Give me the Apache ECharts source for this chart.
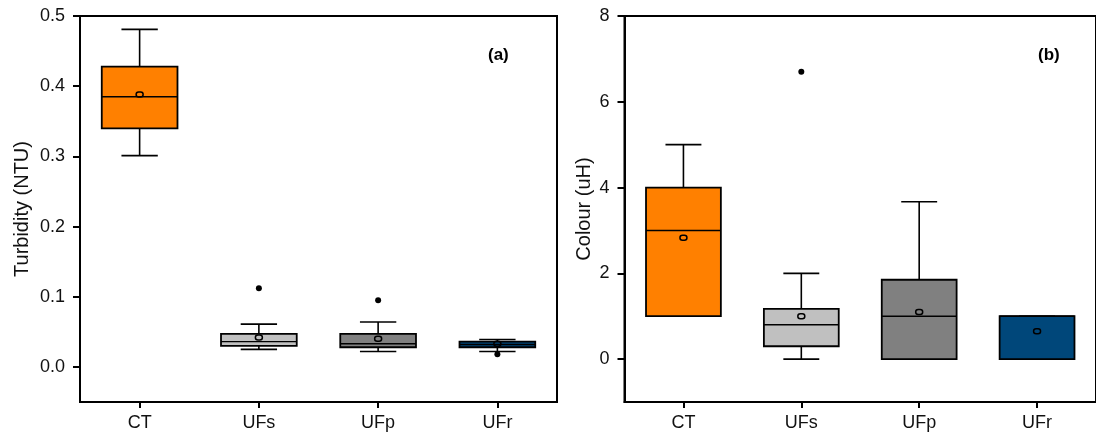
<!DOCTYPE html>
<html>
<head>
<meta charset="utf-8">
<script src="https://cdn.jsdelivr.net/npm/echarts@6/dist/echarts.min.js"></script>
<style>
  html, body { margin: 0; padding: 0; background: #fff; }
  #chart { width: 1096px; height: 434px; }
</style>
</head>
<body>
<div id="chart"></div>
<script>
// Treatment groups and their box fills
const categories = ['CT', 'UFs', 'UFp', 'UFr'];
const boxColors = ['#ff8000', '#c0c0c0', '#808080', '#00477a'];

// Turbidity (NTU): [min, Q1, median, Q3, max] per group
const turbidityBoxes = [
  [0.301, 0.340, 0.385, 0.428, 0.481],
  [0.025, 0.030, 0.036, 0.047, 0.061],
  [0.022, 0.028, 0.033, 0.047, 0.064],
  [0.022, 0.028, 0.032, 0.036, 0.039]
];
const turbidityMeans = [0.388, 0.042, 0.040, 0.033];
const turbidityOutliers = [[1, 0.112], [2, 0.095], [3, 0.018]];
const turbidityTicks = [0, 0.1, 0.2, 0.3, 0.4, 0.5];

// Colour (uH): [min, Q1, median, Q3, max] per group
const colourBoxes = [
  [1.0, 1.0, 3.0, 4.0, 5.0],
  [0.0, 0.3, 0.8, 1.17, 2.0],
  [0.0, 0.0, 1.0, 1.85, 3.67],
  [0.0, 0.0, 1.0, 1.0, 1.0]
];
const colourMeans = [2.83, 1.0, 1.1, 0.65];
const colourOutliers = [[1, 6.7]];
const colourTicks = [0, 2, 4, 6, 8];

const FONT = '"Liberation Sans", Arial, sans-serif';

function boxRows(boxes, means) {
  return boxes.map((b, i) => [i, b[0], b[1], b[2], b[3], b[4], means[i]]);
}

function renderBox(params, api) {
  const i = api.value(0);
  const band = api.size([1, 0])[0];
  const bw = band * 0.635;
  const cap = bw * 0.48;
  const pMin = api.coord([i, api.value(1)]);
  const pQ1 = api.coord([i, api.value(2)]);
  const pMed = api.coord([i, api.value(3)]);
  const pQ3 = api.coord([i, api.value(4)]);
  const pMax = api.coord([i, api.value(5)]);
  const pMean = api.coord([i, api.value(6)]);
  const x = pMed[0];
  const line = { stroke: '#000', lineWidth: 1.6 };
  return {
    type: 'group',
    children: [
      { type: 'line', shape: { x1: x, y1: pQ3[1], x2: x, y2: pMax[1] }, style: line },
      { type: 'line', shape: { x1: x - cap / 2, y1: pMax[1], x2: x + cap / 2, y2: pMax[1] }, style: line },
      { type: 'line', shape: { x1: x, y1: pQ1[1], x2: x, y2: pMin[1] }, style: line },
      { type: 'line', shape: { x1: x - cap / 2, y1: pMin[1], x2: x + cap / 2, y2: pMin[1] }, style: line },
      {
        type: 'rect',
        shape: { x: x - bw / 2, y: pQ3[1], width: bw, height: pQ1[1] - pQ3[1] },
        style: { fill: boxColors[i], stroke: '#000', lineWidth: 1.8 }
      },
      { type: 'line', shape: { x1: x - bw / 2, y1: pMed[1], x2: x + bw / 2, y2: pMed[1] }, style: { stroke: '#000', lineWidth: 1.4 } },
      {
        type: 'rect',
        shape: { x: x - 3.5, y: pMean[1] - 2.5, width: 7, height: 5, r: 2.5 },
        style: { fill: 'transparent', stroke: '#000', lineWidth: 1.5 }
      }
    ]
  };
}

function valueAxis(gridIndex, min, max, ticks, name, nameGap, digits) {
  return {
    type: 'value', gridIndex, min, max,
    name, nameLocation: 'middle', nameGap,
    nameTextStyle: { fontFamily: FONT, fontSize: 20, color: '#111' },
    axisLine: { show: true, lineStyle: { color: '#000', width: 2 } },
    axisTick: { show: true, customValues: ticks, length: 7, lineStyle: { color: '#000', width: 2 } },
    axisLabel: {
      customValues: ticks, margin: 15,
      fontFamily: FONT, fontSize: 18, color: '#111',
      formatter: v => Number(v).toFixed(digits)
    },
    splitLine: { show: false }
  };
}

function categoryAxis(gridIndex) {
  return {
    type: 'category', gridIndex, data: categories, boundaryGap: true,
    axisLine: { show: true, onZero: false, lineStyle: { color: '#000', width: 2 } },
    axisTick: { show: true, alignWithLabel: true, length: 6, lineStyle: { color: '#000', width: 2 } },
    axisLabel: { margin: 12, fontFamily: FONT, fontSize: 18, color: '#111' }
  };
}

const chart = echarts.init(document.getElementById('chart'), null, { renderer: 'canvas' });
chart.setOption({
  animation: false,
  backgroundColor: '#fff',
  grid: [
    { left: 80, top: 16, width: 477, height: 386, show: true, borderColor: '#000', borderWidth: 2 },
    { left: 624.5, top: 16, width: 477, height: 386, show: true, borderColor: '#000', borderWidth: 2 }
  ],
  xAxis: [categoryAxis(0), categoryAxis(1)],
  yAxis: [
    valueAxis(0, -0.05, 0.5, turbidityTicks, 'Turbidity (NTU)', 48, 1),
    valueAxis(1, -1, 8, colourTicks, 'Colour (uH)', 30, 0)
  ],
  graphic: [
    { type: 'text', left: 488, top: 47, style: { text: '(a)', font: 'bold 17px ' + FONT, fill: '#000' } },
    { type: 'text', left: 1038, top: 47, style: { text: '(b)', font: 'bold 17px ' + FONT, fill: '#000' } }
  ],
  series: [
    { type: 'custom', xAxisIndex: 0, yAxisIndex: 0, renderItem: renderBox, data: boxRows(turbidityBoxes, turbidityMeans), z: 2 },
    { type: 'scatter', xAxisIndex: 0, yAxisIndex: 0, data: turbidityOutliers, symbolSize: 6, itemStyle: { color: '#000', opacity: 1 }, z: 3 },
    { type: 'custom', xAxisIndex: 1, yAxisIndex: 1, renderItem: renderBox, data: boxRows(colourBoxes, colourMeans), z: 2 },
    { type: 'scatter', xAxisIndex: 1, yAxisIndex: 1, data: colourOutliers, symbolSize: 6, itemStyle: { color: '#000', opacity: 1 }, z: 3 }
  ]
});
</script>
</body>
</html>
